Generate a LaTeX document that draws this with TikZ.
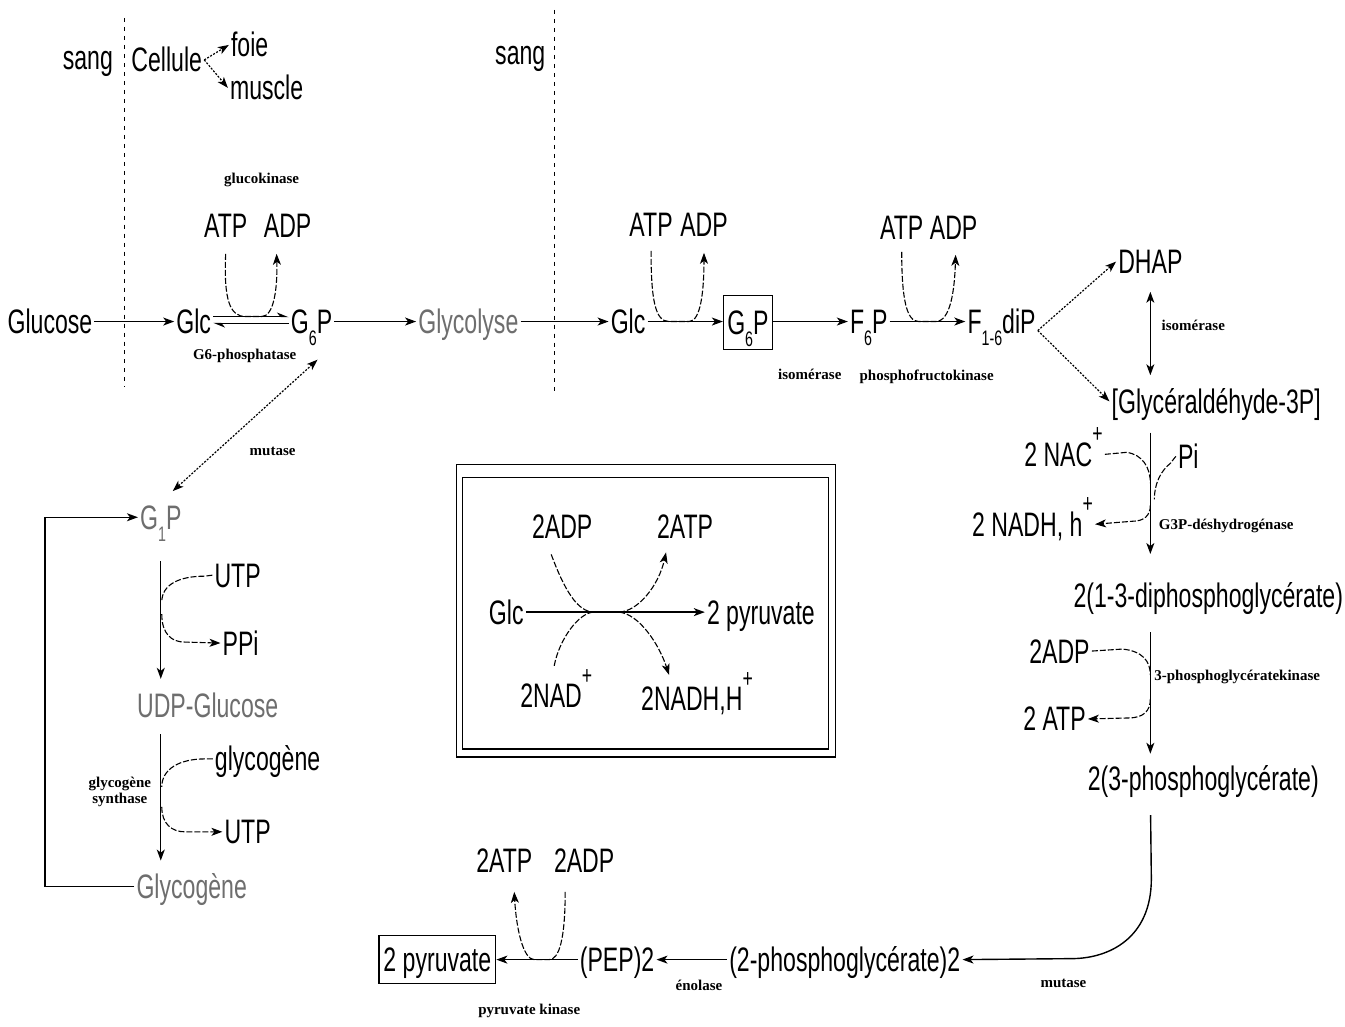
\documentclass[tikz,border=0pt]{standalone}
\usepackage{xcolor}
\usepackage{fontspec}
\setmainfont[FakeStretch=0.68]{Liberation Sans}
\newfontfamily\enzfont{Liberation Serif}
\usepackage{tikz}
\usetikzlibrary{positioning, arrows.meta}
\definecolor{fadegray}{HTML}{6E6E6E}
\newcommand\idx[1]{\raisebox{-0.36em}[0pt][0pt]{\fontsize{21}{21}\selectfont #1}}
\newcommand\chg{\raisebox{0.7em}[0pt][0pt]{\fontsize{26}{26}\selectfont +}}

\begin{document}
\begin{tikzpicture}[x=1pt, y=-1pt, >={Stealth[length=11pt,width=8pt,inset=3pt]},
    every node/.style={font=\fontsize{34}{36}\selectfont, inner sep=2pt, text height=24pt, text depth=0pt},
    enz/.style={font=\enzfont\bfseries\fontsize{15}{16}\selectfont, inner sep=1pt, text height={}, text depth={}, align=center},
    faded/.style={text=fadegray},
    flow/.style={line width=1.4pt, ->},
    cof/.style={line width=1.1pt, dash pattern=on 6pt off 2pt},
    diag/.style={line width=1.2pt, dash pattern=on 2pt off 1.5pt},
    border/.style={line width=1.2pt, dash pattern=on 4pt off 5pt}]
  \fill[white] (0,0) rectangle (1345,1028);

  % compartments
  \draw[border] (125,18) -- (125,388);
  \draw[border] (555,10) -- (555,395);
  \node (sangA) at (88,58) {sang};
  \node (cellule) at (167,60) {Cellule};
  \node (foie) at (250,45) {foie};
  \node (muscle) at (267,88) {muscle};
  \node (sangB) at (521,53) {sang};
  \draw[diag, ->] (cellule.east) -- (foie.west);
  \draw[diag, ->] (cellule.east) -- (muscle.west);

  % glucose -> G6P
  \node (glucose) at (50,322) {Glucose};
  \node (glcA) at (194,322) {Glc};
  \node (gsixA) at (312,322) {G\idx{6}P};
  \node (atpA) at (226,226) {ATP};
  \node (adpA) at (288,226) {ADP};
  \node[enz] (glucokinase) at (262,180) {glucokinase};
  \node[enz] (phosphatase) at (245,356) {G6-phosphatase};
  \draw[flow] (glucose) -- (glcA);
  \draw[line width=1.4pt, -{Stealth[harpoon,length=10pt,width=8pt]}] ([yshift=5pt]glcA.east) -- ([yshift=5pt]gsixA.west);
  \draw[line width=1.4pt, {Stealth[harpoon,length=10pt,width=8pt]}-] ([yshift=-2pt]glcA.east) -- ([yshift=-2pt]gsixA.west);
  \draw[cof, ->] ([yshift=-14pt]atpA.south) .. controls (224,300) and (230,317) .. (246,317) -- (262,317)
    .. controls (274,317) and (278,290) .. ([xshift=-11pt,yshift=-14pt]adpA.south);

  % glycolyse
  \node[faded] (glycolyse) at (469,322) {Glycolyse};
  \node (glcB) at (629,322) {Glc};
  \node[draw, line width=1.2pt, minimum width=49, minimum height=54] (gsixB) at (749,323) {G\idx{6}P};
  \node (fsix) at (870,322) {F\idx{6}P};
  \node (fbis) at (1003,322) {F\idx{1-6}diP};
  \node (atpB) at (652,225) {ATP};
  \node (adpB) at (705,225) {ADP};
  \node (atpC) at (903,228) {ATP};
  \node (adpC) at (955,228) {ADP};
  \node[enz] (isomA) at (811,375) {isomérase};
  \node[enz] (pfk) at (928,377) {phosphofructokinase};
  \draw[flow] (gsixA) -- (glycolyse);
  \draw[flow] (glycolyse) -- (glcB);
  \draw[flow] (glcB) -- (gsixB.west |- glcB);
  \draw[flow] (gsixB.east |- fsix) -- (fsix);
  \draw[flow] (fsix) -- (fbis);
  \draw[cof, ->] ([yshift=-12pt]atpB.south) .. controls (652,300) and (656,322) .. (670,322) -- (690,322)
    .. controls (702,322) and (705,290) .. ([yshift=-14pt]adpB.south);
  \draw[cof, ->] ([yshift=-10pt]atpC.south) .. controls (903,300) and (908,322) .. (920,322) -- (937,322)
    .. controls (952,322) and (956,290) .. ([xshift=2pt,yshift=-13pt]adpC.south);

  % triose
  \node (dhap) at (1152,262) {DHAP};
  \node (gap) at (1218,402) {[Glycéraldéhyde-3P]};
  \node[enz] (isomB) at (1195,326) {isomérase};
  \draw[diag, ->] ([yshift=-9pt]fbis.east) -- (dhap.west);
  \draw[diag, ->] ([yshift=-9pt]fbis.east) -- (gap.west);
  \draw[line width=1.2pt, <->, shorten <=16pt, shorten >=12pt] (dhap.south) -- (dhap.south |- gap.north);

  % G3P -> 1,3-BPG
  \node (nadA) at (1065,455) {2 NAC\chg};
  \node (pi) at (1190,457) {Pi};
  \node (nadhA) at (1034,525) {2 NADH, h\chg};
  \node[enz] (g3pdh) at (1228,527) {G3P-déshydrogénase};
  \node (bpg) at (1210,596) {2(1-3-diphosphoglycérate)};
  \draw[flow, shorten <=17pt, shorten >=27pt] (gap.south -| dhap) -- (bpg.north -| dhap);
  \draw[cof] (nadA.east) -- (1128,453) .. controls (1144,455) and (1152,468) .. (1152,484);
  \draw[cof] (pi.west) -- (1172,464) .. controls (1162,472) and (1156,485) .. (1156,500);
  \draw[cof, ->] (1152,506) .. controls (1152,516) and (1146,522) .. (1134,522) -- (nadhA.east);

  % 1,3-BPG -> 3PG
  \node (adpD) at (1061,652) {2ADP};
  \node (atpD) at (1056,720) {2 ATP};
  \node[enz] (pgk) at (1239,678) {3-phosphoglycératekinase};
  \node (pgt) at (1205,780) {2(3-phosphoglycérate)};
  \draw[flow, shorten <=23pt, shorten >=11pt] (bpg.south -| dhap) -- (pgt.north -| dhap);
  \draw[cof] (adpD.east) -- (1124,650) .. controls (1144,652) and (1152,662) .. (1152,676);
  \draw[cof, ->] (1152,700) .. controls (1152,712) and (1145,719) .. (1130,719) -- (atpD.east);

  % 3PG -> pyruvate
  \node (pgb) at (846,961) {(2-phosphoglycérate)2};
  \node (pep) at (618,961) {(PEP)2};
  \node[draw, line width=1.2pt, minimum width=117, minimum height=48] (pyr) at (438,961) {2 pyruvate};
  \node (atpF) at (505,862) {2ATP};
  \node (adpF) at (585,862) {2ADP};
  \node[enz] (mutaseB) at (1065,985) {mutase};
  \node[enz] (enolase) at (700,987) {énolase};
  \node[enz] (pk) at (530,1012) {pyruvate kinase};
  \draw[flow, shorten <=22pt] (pgt.south -| dhap) -- (1153,880) .. controls (1153,940) and (1110,960) .. (1073,960) -- (pgb.east);
  \draw[flow] (pgb) -- (pep);
  \draw[flow] (pep) -- (pyr);
  \draw[cof, ->] ([xshift=-19pt,yshift=-17pt]adpF.south) .. controls (566,940) and (560,961) .. (550,961) -- (535,961)
    .. controls (524,961) and (517,930) .. ([xshift=10pt,yshift=-17pt]atpF.south);

  % glycogenese
  \node[faded] (gone) at (161,518) {G\idx{1}P};
  \node (utpA) at (238,576) {UTP};
  \node (ppi) at (241,644) {PPi};
  \node[faded] (udpg) at (208,707) {UDP-Glucose};
  \node (glygA) at (268,760) {glycogène};
  \node (utpB) at (248,833) {UTP};
  \node[faded] (glycogene) at (192,888) {Glycogène};
  \node[enz] (mutaseA) at (273,452) {mutase};
  \node[enz] (gsyn) at (120,793) {glycogène\\synthase};
  \draw[diag, <->] ([shift={(6pt,-24pt)}]gsixA.south) -- ([shift={(12pt,12pt)}]gone.north);
  \draw[flow] (glycogene.west) -- (45,888) |- (gone.west);
  \draw[flow, shorten <=30pt, shorten >=13pt] (gone.south) -- (gone.south |- udpg.north);
  \draw[flow, shorten <=14pt, shorten >=12pt] (udpg.south -| gone) -- (glycogene.north -| gone);
  \draw[cof] (utpA.west) -- (205,577) .. controls (180,577) and (162,585) .. (162,603);
  \draw[cof, ->] (162,615) .. controls (162,635) and (172,643) .. (185,643) -- (ppi.west);
  \draw[cof] (glygA.west) -- (205,760) .. controls (180,760) and (162,770) .. (162,788);
  \draw[cof, ->] (162,808) .. controls (162,825) and (172,833) .. (185,833) -- (utpB.west);

  % bilan
  \draw[line width=1.2pt] (457,465) rectangle (837,758);
  \draw[line width=1.2pt] (463,478) rectangle (830,750);
  \node (glcC) at (507,613) {Glc};
  \node (pyrC) at (762,613) {2 pyruvate};
  \node (adpE) at (563,527) {2ADP};
  \node (atpE) at (686,527) {2ATP};
  \node (nadE) at (557,697) {2NAD\chg};
  \node (nadhE) at (698,700) {2NADH,H\chg};
  \draw[flow] (glcC) -- (pyrC);
  \draw[cof] ([xshift=-11pt,yshift=-14pt]adpE.south) .. controls (565,590) and (578,613) .. (595,613);
  \draw[cof] ([xshift=-2pt,yshift=16pt]nadE.north) .. controls (560,640) and (580,613) .. (595,613);
  \draw[cof, ->] (620,613) .. controls (640,612) and (660,585) .. ([xshift=-19pt,yshift=-12pt]atpE.south);
  \draw[cof, ->] (620,613) .. controls (640,615) and (660,645) .. ([xshift=-28pt,yshift=10pt]nadhE.north);
\end{tikzpicture}
\end{document}
